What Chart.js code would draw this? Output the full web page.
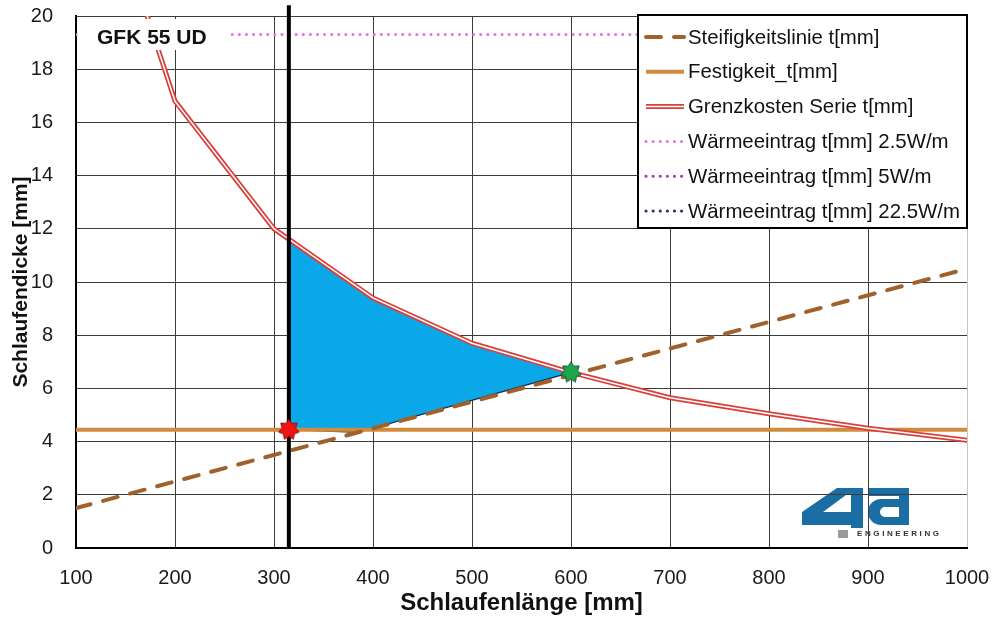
<!DOCTYPE html>
<html>
<head>
<meta charset="utf-8">
<script src="https://cdn.jsdelivr.net/npm/chart.js@4.4.1/dist/chart.umd.min.js"></script>
<style>
  html, body { margin: 0; background: #fff; }
  canvas { display: block; }
</style>
</head>
<body>
<canvas id="chart-schlaufe" width="998" height="619"></canvas>
<script>
// ---------------------------- Daten ----------------------------
// x = Schlaufenlänge [mm], t = Schlaufendicke [mm]
const steif_x = [100, 1000];
const steif_t = [1.5, 10.5];

const fest_x = [100, 1000];
const fest_t = [4.45, 4.45];

const kosten_x = [150, 200, 300, 400, 500, 600, 700, 800, 900, 1000];
const kosten_t = [22.5, 16.8, 12.0, 9.4, 7.7, 6.6, 5.65, 5.05, 4.5, 4.05];

const waerme25_x = [100, 1000];
const waerme25_t = [19.3, 19.3];
const waerme5_x = [];
const waerme5_t = [];
const waerme225_x = [];
const waerme225_t = [];

// zulässiger Bereich: oben Grenzkosten, unten Steifigkeit/Festigkeit
const feld_x = [315, 400, 500, 600, 385, 315];
const feld_t = [11.61, 9.4, 7.7, 6.6, 4.35, 4.45];

// Grenze links (Mindestlänge)
const grenze_x = [315, 315];
const grenze_t = [0, 20.4];

// Eckpunkte
const punkt_x = [315, 600];
const punkt_t = [4.45, 6.6];

const xTicks = [100, 200, 300, 400, 500, 600, 700, 800, 900, 1000];
const yTicks = [0, 2, 4, 6, 8, 10, 12, 14, 16, 18, 20];

const FONT = "'Liberation Sans', Arial, sans-serif";

function pts(xs, ys) {
    return xs.map((x, i) => ({ x: x, y: ys[i] }));
}

function makeStar(fill, stroke) {
    const c = document.createElement('canvas');
    c.width = 24; c.height = 24;
    const g = c.getContext('2d');
    const n = 7;
    g.beginPath();
    for (let i = 0; i < 2 * n; i++) {
        const r = i % 2 ? 6.8 : 10.5;
        const a = -Math.PI / 2 + i * Math.PI / n;
        const px = 12 + r * Math.cos(a), py = 12 + r * Math.sin(a);
        if (i === 0) g.moveTo(px, py); else g.lineTo(px, py);
    }
    g.closePath();
    g.fillStyle = fill;
    g.fill();
    g.lineWidth = 1;
    g.strokeStyle = stroke;
    g.stroke();
    return c;
}

const starRed = makeStar('#f01414', '#8a0a0a');
const starGreen = makeStar('#1fa54b', '#0c5a26');

// Achsen ohne Überstand der Beschriftung
function fixPadding(s) {
    s.paddingTop = 0;
    s.paddingBottom = 0;
    s.paddingLeft = 0;
    s.paddingRight = 0;
}

// ---------------------------- Plugins ----------------------------
// Logo unten rechts, liegt unter dem Gitter
const logoPlugin = {
    id: 'logo',
    beforeDraw(chart) {
        const ctx = chart.ctx;
        const a = chart.chartArea;
        const ox = a.right - 165, oy = a.bottom - 60;
        ctx.save();
        ctx.fillStyle = '#1b6ea4';
        // "4"
        ctx.beginPath();
        ctx.moveTo(ox, oy + 24);
        ctx.lineTo(ox + 35, oy);
        ctx.lineTo(ox + 61, oy);
        ctx.lineTo(ox + 61, oy + 40);
        ctx.lineTo(ox + 49, oy + 40);
        ctx.lineTo(ox + 49, oy + 37);
        ctx.lineTo(ox, oy + 37);
        ctx.closePath();
        ctx.moveTo(ox + 21, oy + 24);
        ctx.lineTo(ox + 49, oy + 24);
        ctx.lineTo(ox + 49, oy + 7);
        ctx.lineTo(ox + 44, oy + 7);
        ctx.closePath();
        ctx.fill('evenodd');
        // "a"
        const ax = ox + 66;
        ctx.fillRect(ax, oy, 40, 8);
        ctx.fillRect(ax + 31, oy, 10, 37);
        ctx.beginPath();
        ctx.roundRect(ax, oy + 11, 36, 26, [13, 0, 0, 13]);
        ctx.roundRect(ax + 12, oy + 19, 20, 10, [5, 0, 0, 5]);
        ctx.fill('evenodd');
        // Schriftzug
        ctx.fillStyle = '#9a9a9a';
        ctx.fillRect(ox + 36, oy + 42, 10, 8);
        ctx.fillStyle = '#333';
        ctx.font = 'bold 8px ' + FONT;
        ctx.textBaseline = 'middle';
        ctx.letterSpacing = '2.6px';
        ctx.fillText('ENGINEERING', ox + 55, oy + 46);
        ctx.restore();
    }
};

// Beschriftung oben links mit weißem Hintergrund
const titelPlugin = {
    id: 'titel',
    afterDatasetsDraw(chart) {
        const ctx = chart.ctx;
        const a = chart.chartArea;
        ctx.save();
        ctx.fillStyle = '#fff';
        ctx.fillRect(a.left + 3, a.top + 3, 149, 31);
        ctx.fillStyle = '#111';
        ctx.font = 'bold 21px ' + FONT;
        ctx.textBaseline = 'middle';
        ctx.fillText('GFK 55 UD', a.left + 21, a.top + 22);
        ctx.restore();
    }
};

// Legende im Diagramm, oben rechts
const legendePlugin = {
    id: 'legende',
    afterDraw(chart) {
        const ctx = chart.ctx;
        const a = chart.chartArea;
        const w = 329, h = 213;
        const left = a.right - w, top = a.top - 1;
        ctx.save();
        ctx.fillStyle = '#fff';
        ctx.fillRect(left, top, w, h);
        ctx.lineWidth = 2;
        ctx.strokeStyle = '#000';
        ctx.strokeRect(left, top, w, h);
        const items = chart.data.datasets.filter(d => d.label);
        items.forEach((d, i) => {
            const y = top + 22 + i * 34.8;
            const x0 = left + 8, x1 = left + 46;
            ctx.save();
            ctx.lineCap = d.borderCapStyle || 'butt';
            ctx.setLineDash(d.borderDash || []);
            ctx.strokeStyle = d.borderColor;
            ctx.lineWidth = d.borderWidth;
            ctx.beginPath();
            ctx.moveTo(x0, y);
            ctx.lineTo(x1, y);
            ctx.stroke();
            if (d.innerColor) {
                ctx.strokeStyle = d.innerColor;
                ctx.lineWidth = 1.5;
                ctx.stroke();
            }
            ctx.restore();
            ctx.fillStyle = '#111';
            ctx.font = '20.4px ' + FONT;
            ctx.textBaseline = 'middle';
            ctx.fillText(d.label, left + 50, y + 1);
        });
        ctx.restore();
    }
};

// ---------------------------- Diagramm ----------------------------
const ctxSchlaufe = document.getElementById('chart-schlaufe').getContext('2d');
const chart_schlaufe = new Chart(ctxSchlaufe, {
    type: 'line',
    data: {
        datasets: [
            {
                label: 'Steifigkeitslinie t[mm]',
                data: pts(steif_x, steif_t),
                borderColor: '#a0612a',
                borderWidth: 4,
                borderDash: [15, 13],
                borderCapStyle: 'round',
                pointRadius: 0,
                order: 2
            },
            {
                label: 'Festigkeit_t[mm]',
                data: pts(fest_x, fest_t),
                borderColor: '#d08b3c',
                borderWidth: 4,
                pointRadius: 0,
                order: 5
            },
            {
                label: 'Grenzkosten Serie t[mm]',
                data: pts(kosten_x, kosten_t),
                borderColor: '#d9403c',
                innerColor: '#ffffff',
                borderWidth: 5,
                pointRadius: 0,
                order: 4
            },
            {
                label: 'Wärmeeintrag t[mm] 2.5W/m',
                data: pts(waerme25_x, waerme25_t),
                borderColor: '#e472e4',
                borderWidth: 3,
                borderDash: [0.1, 7],
                borderCapStyle: 'round',
                pointRadius: 0,
                order: 6
            },
            {
                label: 'Wärmeeintrag t[mm] 5W/m',
                data: pts(waerme5_x, waerme5_t),
                borderColor: '#a33aa8',
                borderWidth: 3,
                borderDash: [0.1, 7],
                borderCapStyle: 'round',
                pointRadius: 0,
                order: 7
            },
            {
                label: 'Wärmeeintrag t[mm] 22.5W/m',
                data: pts(waerme225_x, waerme225_t),
                borderColor: '#2c2c78',
                borderWidth: 3,
                borderDash: [0.1, 7],
                borderCapStyle: 'round',
                pointRadius: 0,
                order: 8
            },
            // weiße Mittellinie der Grenzkosten
            {
                data: pts(kosten_x, kosten_t),
                borderColor: '#ffffff',
                borderWidth: 1.5,
                pointRadius: 0,
                order: 3
            },
            // zulässiger Bereich
            {
                data: pts(feld_x, feld_t),
                borderColor: '#1c2b45',
                borderWidth: 1.2,
                backgroundColor: '#0aa8e8',
                fill: 'shape',
                pointRadius: 0,
                order: 9
            },
            // Mindestlänge
            {
                data: pts(grenze_x, grenze_t),
                borderColor: '#000000',
                borderWidth: 4,
                pointRadius: 0,
                clip: false,
                order: 1
            },
            // Schnittpunkte
            {
                data: pts(punkt_x, punkt_t),
                showLine: false,
                pointStyle: [starRed, starGreen],
                pointRadius: 10,
                order: 0
            }
        ]
    },
    options: {
        responsive: false,
        devicePixelRatio: 1,
        animation: false,
        layout: { padding: { left: 0, right: 31, top: 16, bottom: 0 } },
        elements: { line: { tension: 0 } },
        plugins: {
            legend: { display: false },
            tooltip: { enabled: false }
        },
        scales: {
            x: {
                type: 'linear',
                min: 100,
                max: 1000,
                afterBuildTicks: s => { s.ticks = xTicks.map(v => ({ value: v })); },
                afterFit: s => { s.height = 71; fixPadding(s); },
                grid: {
                    color: c => (c.tick && c.tick.value === 1000) ? '#c4c4c4' : '#3c3c3c',
                    lineWidth: 1,
                    drawTicks: false
                },
                border: { color: '#000', width: 2 },
                ticks: {
                    padding: 18,
                    color: '#1a1a1a',
                    font: { family: FONT, size: 20 },
                    callback: v => String(v)
                },
                title: {
                    display: true,
                    text: 'Schlaufenlänge [mm]',
                    color: '#111',
                    font: { family: FONT, size: 24, weight: 'bold' },
                    padding: { top: 0, bottom: 1 }
                }
            },
            y: {
                type: 'linear',
                min: 0,
                max: 20,
                afterBuildTicks: s => { s.ticks = yTicks.map(v => ({ value: v })); },
                afterFit: s => { s.width = 76; fixPadding(s); },
                grid: {
                    color: '#3c3c3c',
                    lineWidth: 1,
                    drawTicks: false
                },
                border: { color: '#000', width: 2 },
                ticks: {
                    padding: 23,
                    color: '#1a1a1a',
                    font: { family: FONT, size: 20 },
                    callback: v => String(v)
                },
                title: {
                    display: true,
                    text: 'Schlaufendicke [mm]',
                    color: '#111',
                    font: { family: FONT, size: 21, weight: 'bold' },
                    padding: { top: 9, bottom: 0 }
                }
            }
        }
    },
    plugins: [logoPlugin, titelPlugin, legendePlugin]
});
</script>
</body>
</html>
